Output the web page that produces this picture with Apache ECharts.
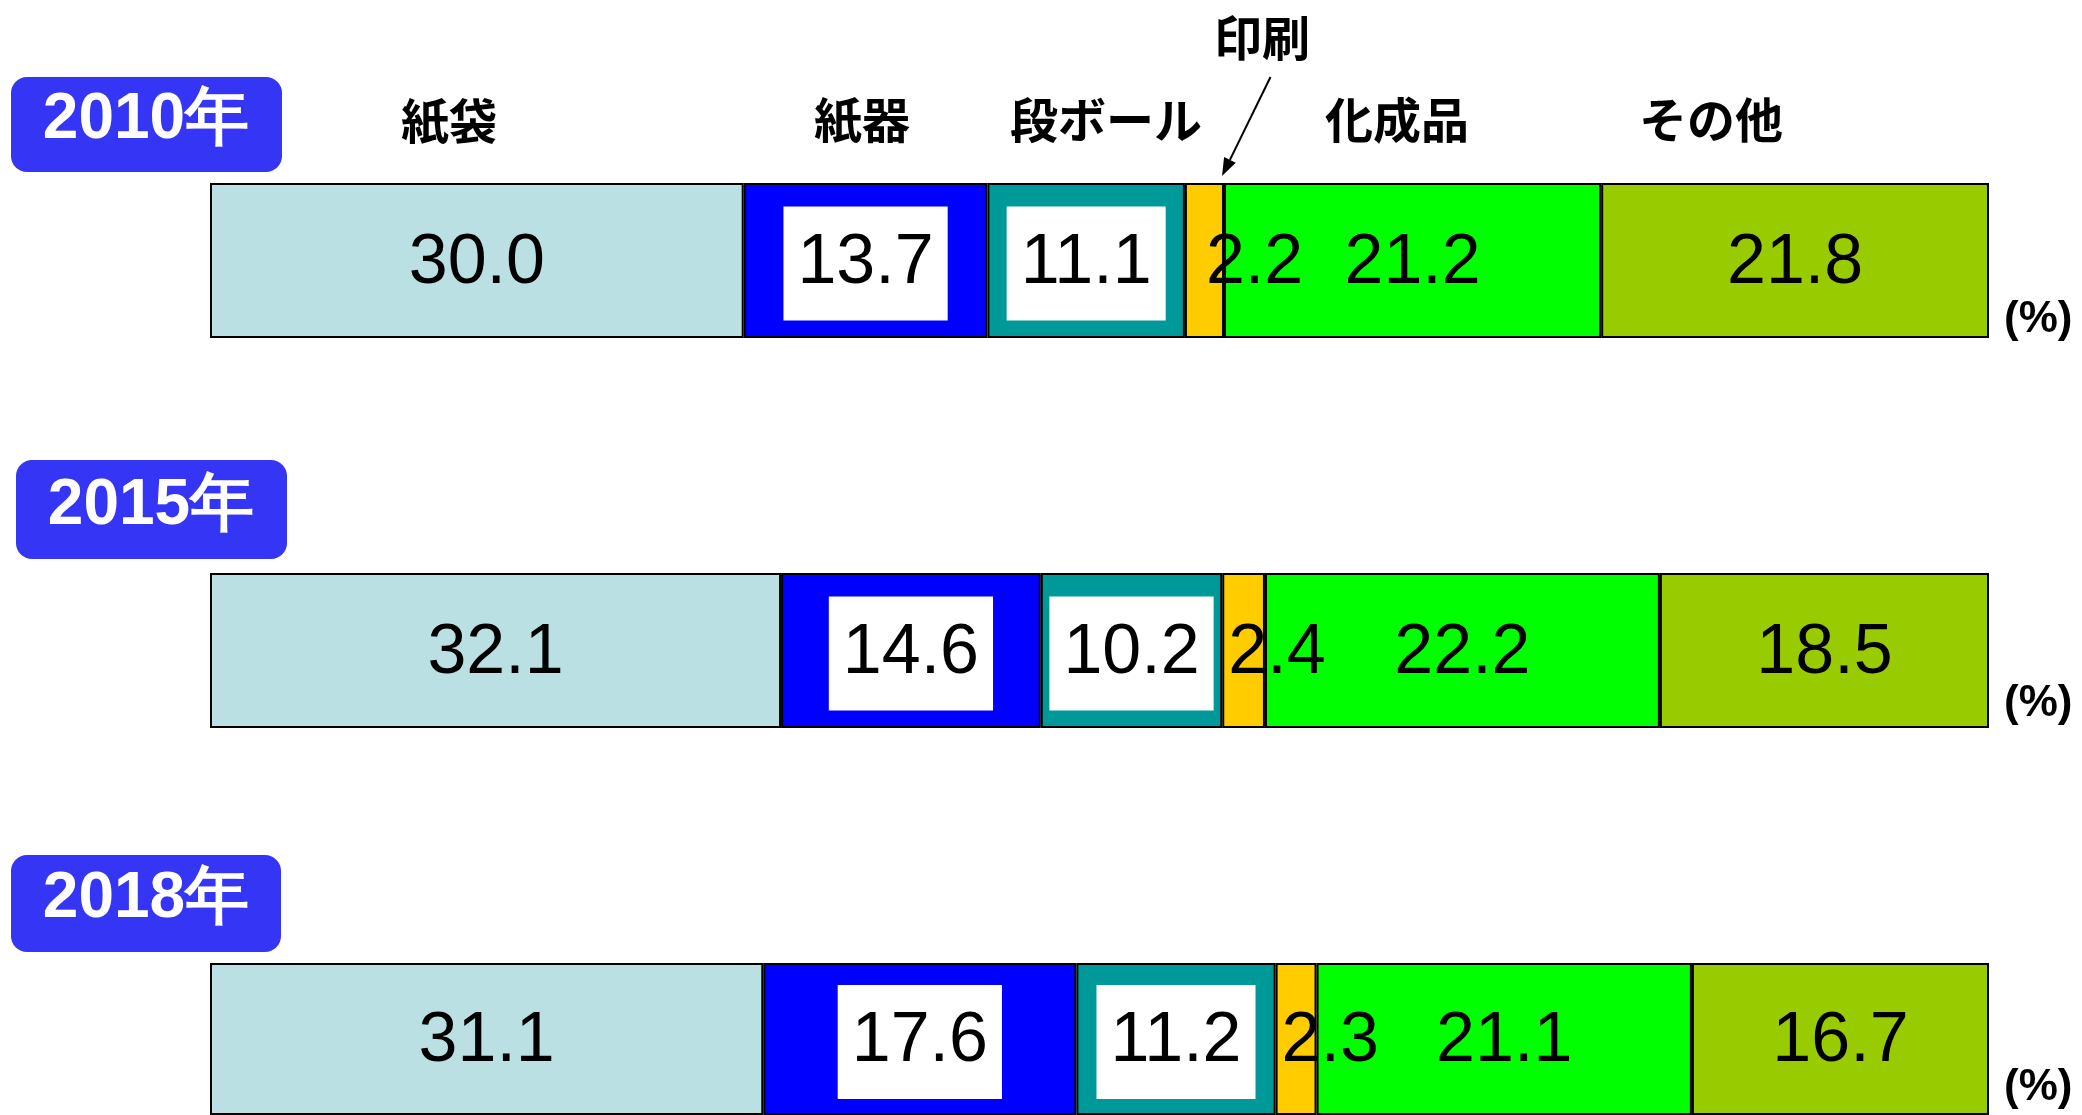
<!DOCTYPE html>
<html>
<head>
<meta charset="utf-8">
<script src="https://cdn.jsdelivr.net/npm/echarts@6/dist/echarts.min.js"></script>
<style>
  html, body { margin: 0; padding: 0; background: #fff; }
  #chart { width: 2082px; height: 1115px; }
</style>
</head>
<body>
<div id="chart"></div>
<script>
// ---- data ----
const years = ['2010年', '2015年', '2018年'];
const categories = ['紙袋', '紙器', '段ボール', '印刷', '化成品', 'その他'];
const values2010 = [30.0, 13.7, 11.1, 2.2, 21.2, 21.8];
const values2015 = [32.1, 14.6, 10.2, 2.4, 22.2, 18.5];
const values2018 = [31.1, 17.6, 11.2, 2.3, 21.1, 16.7];
const unitLabel = '(%)';

// ---- styles / layout ----
const valuesByYear = [values2010, values2015, values2018];
const colors = ['#BBE0E3', '#0000FF', '#009999', '#FFCC00', '#00FF00', '#99CC00'];
const gridLeft = 210, gridWidth = 1779, gridHeight = 155;
const gridTops = [183, 573, 963];
const numFont = 'Liberation Sans, Arial, sans-serif';
const jpFont = '"Noto Sans CJK JP", sans-serif';

const grids = [], xAxes = [], yAxes = [], series = [];
years.forEach((yr, i) => {
  grids.push({ left: gridLeft, top: gridTops[i], width: gridWidth, height: gridHeight, containLabel: false });
  xAxes.push({ type: 'value', gridIndex: i, min: 0, max: 100, show: false });
  yAxes.push({ type: 'category', gridIndex: i, data: [yr], show: false });
  categories.forEach((cat, j) => {
    const label = {
      show: true, position: 'inside', color: '#000', fontSize: 70,
      fontFamily: numFont, lineHeight: 70, offset: [0, 3],
      formatter: p => Number(p.value).toFixed(1)
    };
    if (j === 1 || j === 2) {
      label.backgroundColor = '#fff';
      label.padding = [22, 14];
    }
    if (j === 3) {
      label.position = 'insideLeft';
      label.distance = 6;
      if (i === 0) label.offset = [15, 3];
    }
    series.push({
      type: 'bar', name: cat, xAxisIndex: i, yAxisIndex: i, stack: 's' + i,
      barWidth: '100%', data: [valuesByYear[i][j]],
      itemStyle: { color: colors[j], borderColor: '#000', borderWidth: 2 },
      label: label, emphasis: { disabled: true }
    });
  });
});

// ---- annotations (graphic) ----
const graphic = [];
const yearBoxes = [[11, 77, 271, 95], [16, 460, 271, 99], [11, 855, 270, 97]];
const yearTextPos = [[146, 120], [151, 506], [146, 899]];
years.forEach((yr, i) => {
  const b = yearBoxes[i];
  graphic.push({ type: 'rect', shape: { x: b[0], y: b[1], width: b[2], height: b[3], r: 16 },
    style: { fill: '#3535F6' }, z: 10 });
  graphic.push({ type: 'text', x: yearTextPos[i][0], y: yearTextPos[i][1], z: 11,
    style: { text: yr, fill: '#fff', fontSize: 64, fontWeight: 'bold', fontFamily: numFont,
      align: 'center', verticalAlign: 'middle', textAlign: 'center', textVerticalAlign: 'middle' } });
});
const catLabelPos = [[449, 121], [862, 120], [1106, 120], [1262, 38], [1397, 120], [1711, 120]];
categories.forEach((cat, j) => {
  graphic.push({ type: 'text', x: catLabelPos[j][0], y: catLabelPos[j][1], z: 11,
    style: { text: cat, fill: '#000', fontSize: 48, fontWeight: 'bold', fontFamily: jpFont,
      align: 'center', verticalAlign: 'middle', textAlign: 'center', textVerticalAlign: 'middle' } });
});
// arrow from 印刷 label to its segment
(function () {
  const x0 = 1270.5, y0 = 77, x1 = 1222, y1 = 176;
  const dx = x1 - x0, dy = y1 - y0, len = Math.hypot(dx, dy);
  const ux = dx / len, uy = dy / len, px = -uy, py = ux;
  const hl = 18, hw = 6.5;
  const bx = x1 - ux * hl, by = y1 - uy * hl;
  graphic.push({ type: 'line', shape: { x1: x0, y1: y0, x2: bx, y2: by }, style: { stroke: '#000', lineWidth: 2 }, z: 11 });
  graphic.push({ type: 'polygon', shape: { points: [[x1, y1], [bx + px * hw, by + py * hw], [bx - px * hw, by - py * hw]] },
    style: { fill: '#000' }, z: 11 });
})();
const unitY = [320, 704, 1088];
unitY.forEach(y => {
  graphic.push({ type: 'text', x: 2004, y: y, z: 11,
    style: { text: unitLabel, fill: '#000', fontSize: 44, fontWeight: 'bold', fontFamily: numFont,
      align: 'left', verticalAlign: 'middle', textAlign: 'left', textVerticalAlign: 'middle' } });
});

const chart = echarts.init(document.getElementById('chart'), null, { renderer: 'canvas' });
chart.setOption({
  animation: false,
  backgroundColor: '#fff',
  grid: grids, xAxis: xAxes, yAxis: yAxes,
  series: series,
  graphic: graphic
});
</script>
</body>
</html>
